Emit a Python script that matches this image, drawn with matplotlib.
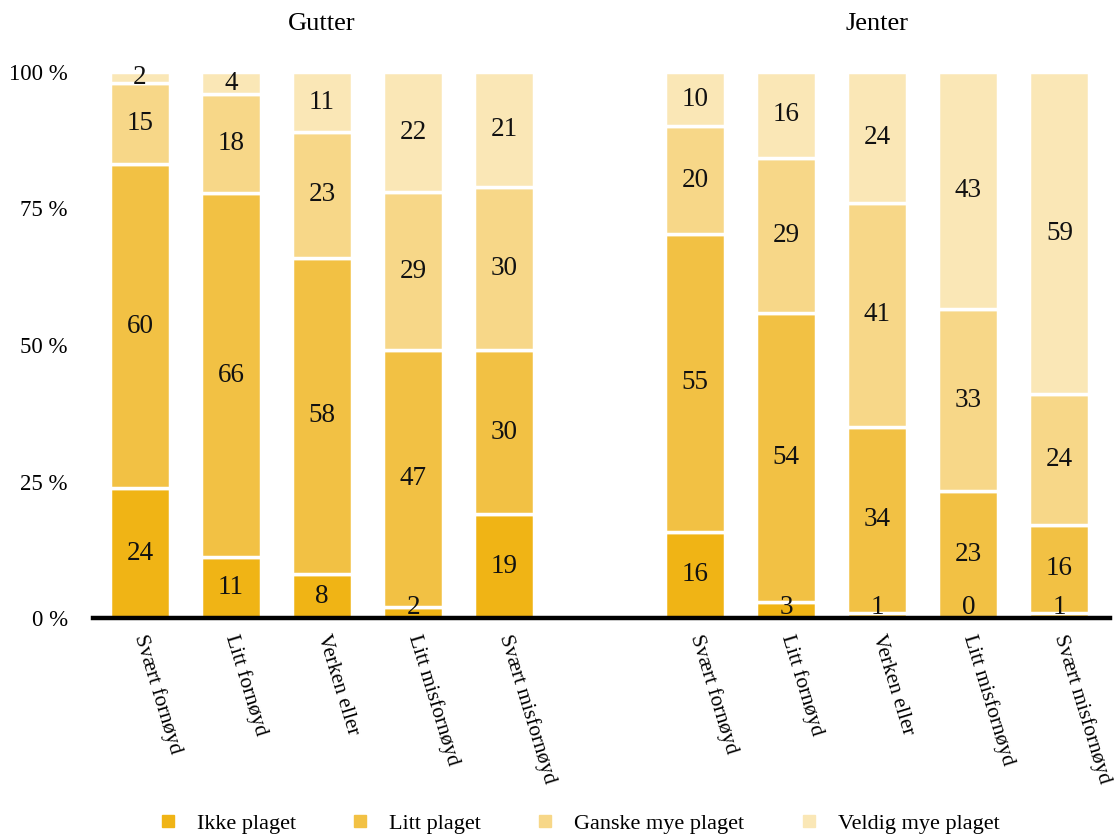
import matplotlib
matplotlib.use("Agg")
import matplotlib.pyplot as plt
import numpy as np
from matplotlib.lines import Line2D

plt.rcParams['font.family'] = ['Liberation Serif', 'DejaVu Serif']

categories = ["Svært fornøyd", "Litt fornøyd", "Verken eller", "Litt misfornøyd", "Svært misfornøyd"]
groups = ["Gutter", "Jenter"]
series = ["Ikke plaget", "Litt plaget", "Ganske mye plaget", "Veldig mye plaget"]
colors = ["#F0B415", "#F2C144", "#F7D788", "#FAE7B6"]

# verdier i prosent (lest av figuren)
gutter_ikke = [24, 11, 8, 2, 19]
gutter_litt = [60, 66, 58, 47, 30]
gutter_ganske = [15, 18, 23, 29, 30]
gutter_veldig = [2, 4, 11, 22, 21]

jenter_ikke = [16, 3, 1, 0, 1]
jenter_litt = [55, 54, 34, 23, 16]
jenter_ganske = [20, 29, 41, 33, 24]
jenter_veldig = [10, 16, 24, 43, 59]

fig = plt.figure(figsize=(11.16, 8.38), dpi=100)
ax = fig.add_axes([0.083, 0.2625, 0.912, 0.6516])

gutter = np.array([gutter_ikke, gutter_litt, gutter_ganske, gutter_veldig], dtype=float)
jenter = np.array([jenter_ikke, jenter_litt, jenter_ganske, jenter_veldig], dtype=float)

x_g = np.arange(5)
x_j = np.arange(5) + 6.1
width = 0.66

for data, xs in [(gutter, x_g), (jenter, x_j)]:
    share = data / data.sum(axis=0) * 100  # 100 % stablet
    bottom = np.zeros(5)
    for i in range(4):
        ax.bar(xs, share[i], width, bottom=bottom, color=colors[i],
               edgecolor="white", linewidth=2.5, zorder=2)
        for k in range(5):
            yc = max(bottom[k] + share[i][k] / 2, 2.0)
            yc = min(yc, 99.0)
            ax.text(xs[k], yc, f"{int(data[i][k])}", ha="center", va="center",
                    fontsize=19.5, color="#111111", zorder=3)
        bottom += share[i]

ax.set_xlim(-0.52, 10.66)
ax.set_ylim(0, 100)
ax.set_yticks([0, 25, 50, 75, 100])
ax.set_yticklabels(["0 %", "25 %", "50 %", "75 %", "100 %"], fontsize=16.5)
ax.set_xticks(list(x_g) + list(x_j))
ax.set_xticklabels(categories + categories, fontsize=15.5, rotation=-73,
                   ha="left", va="center", rotation_mode="anchor")
ax.tick_params(axis="both", length=0)
ax.tick_params(axis="x", pad=12)
ax.tick_params(axis="y", pad=18)
for s in ["top", "right", "left"]:
    ax.spines[s].set_visible(False)
ax.spines["bottom"].set_linewidth(3.2)
ax.spines["bottom"].set_zorder(4)

ax.text(np.mean(x_g), 1.088, groups[0], transform=ax.get_xaxis_transform(),
        ha="center", va="center", fontsize=19)
ax.text(np.mean(x_j), 1.088, groups[1], transform=ax.get_xaxis_transform(),
        ha="center", va="center", fontsize=19)

handles = [Line2D([0], [0], marker="s", linestyle="none", markersize=9,
                  markerfacecolor=c, markeredgecolor=c) for c in colors]
fig.legend(handles, series, loc="center", bbox_to_anchor=(0.513, 0.017),
           ncol=4, frameon=False, fontsize=16, columnspacing=1.9,
           handletextpad=0.3)

fig.savefig("out.png", dpi=100)
